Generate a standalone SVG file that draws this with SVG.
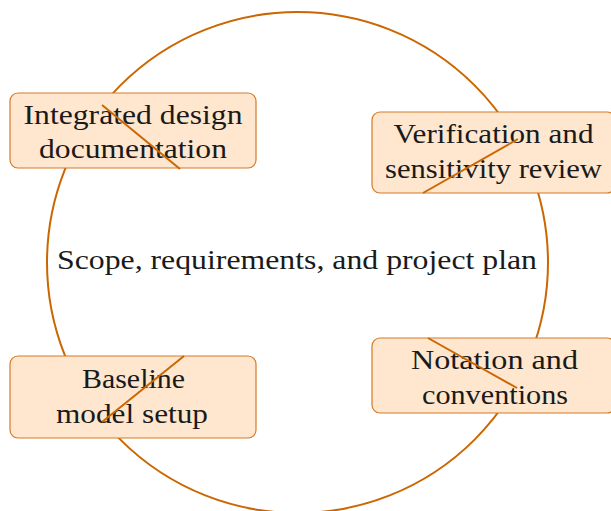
<svg xmlns="http://www.w3.org/2000/svg" width="611" height="511" viewBox="0 0 611 511">
  <style>
    .ring { fill: none; stroke: #CC6600; stroke-width: 2; }
    .box { fill: #FFE6CF; stroke: #D47A28; stroke-width: 1.2; }
    .lbl { font-family: "Liberation Serif", "Times New Roman", serif; font-size: 28px; fill: #1a1a1a; text-anchor: middle; }
    .conn { stroke: #CC6600; stroke-width: 2; fill: none; stroke-linecap: butt; }
  </style>
  <rect width="611" height="511" fill="#ffffff"/>
  <g id="cycle">
    <circle class="ring" cx="297.5" cy="262.5" r="250.5"/>
  </g>
  <g id="center">
    <text class="lbl" x="297" y="269" textLength="480" lengthAdjust="spacingAndGlyphs">Scope, requirements, and project plan</text>
  </g>
  <g id="node-integrated">
    <rect class="box" x="10" y="93" width="246" height="75" rx="8"/>
    <text class="lbl" x="133" y="124" textLength="219" lengthAdjust="spacingAndGlyphs">Integrated design</text>
    <text class="lbl" x="133" y="158" textLength="188" lengthAdjust="spacingAndGlyphs">documentation</text>
  </g>
  <g id="node-verification">
    <rect class="box" x="372" y="112" width="243" height="81" rx="8"/>
    <text class="lbl" x="493.5" y="143" textLength="200" lengthAdjust="spacingAndGlyphs">Verification and</text>
    <text class="lbl" x="493.5" y="178" textLength="217" lengthAdjust="spacingAndGlyphs">sensitivity review</text>
  </g>
  <g id="node-baseline">
    <rect class="box" x="10" y="356" width="246" height="82" rx="8"/>
    <text class="lbl" x="133.5" y="388" textLength="103" lengthAdjust="spacingAndGlyphs">Baseline</text>
    <text class="lbl" x="132" y="423" textLength="152" lengthAdjust="spacingAndGlyphs">model setup</text>
  </g>
  <g id="node-notation">
    <rect class="box" x="372" y="338" width="243" height="75" rx="8"/>
    <text class="lbl" x="494.5" y="369" textLength="167" lengthAdjust="spacingAndGlyphs">Notation and</text>
    <text class="lbl" x="495" y="404" textLength="146" lengthAdjust="spacingAndGlyphs">conventions</text>
  </g>
  <g id="connectors">
    <line class="conn" x1="102" y1="105" x2="180" y2="169"/>
    <line class="conn" x1="423" y1="193" x2="518" y2="139"/>
    <line class="conn" x1="102" y1="422" x2="184" y2="356"/>
    <line class="conn" x1="428" y1="338" x2="517" y2="388"/>
  </g>
</svg>
